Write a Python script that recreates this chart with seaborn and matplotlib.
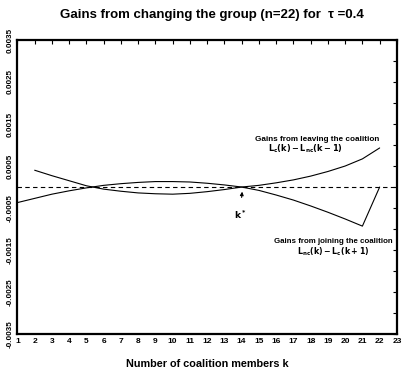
import numpy as np
import pandas as pd
import matplotlib
matplotlib.use("Agg")
import matplotlib.pyplot as plt
import seaborn as sns

# gains from joining the coalition, k = 1..22
k_join = list(range(1, 23))
gain_join = [-0.00037, -0.00027, -0.00017, -0.00009, -0.00002, 0.00004, 0.00008,
             0.00011, 0.00013, 0.00013, 0.00012, 0.00009, 0.00005, 0.0,
             -0.00008, -0.00019, -0.00031, -0.00045, -0.00060, -0.00076, -0.00093, 0.0]

# gains from leaving the coalition, k = 2..22
k_leave = list(range(2, 23))
gain_leave = [0.00040, 0.00027, 0.00015, 0.00003, -0.00005, -0.00010, -0.00014,
              -0.00016, -0.00017, -0.00015, -0.00011, -0.00006, 0.0,
              0.00004, 0.00010, 0.00017, 0.00026, 0.00037, 0.00050, 0.00067, 0.00093]

x_ticks = list(range(1, 24))
y_major = [-0.0035, -0.0025, -0.0015, -0.0005, 0.0005, 0.0015, 0.0025, 0.0035]
y_minor = [-0.003, -0.002, -0.001, 0.0, 0.001, 0.002, 0.003]

df_join = pd.DataFrame({"k": k_join, "gain": gain_join})
df_leave = pd.DataFrame({"k": k_leave, "gain": gain_leave})

sns.set_theme(style="white")
plt.rcParams["font.family"] = ["Liberation Sans", "DejaVu Sans"]
plt.rcParams["font.weight"] = "bold"
plt.rcParams["text.color"] = "black"
plt.rcParams["axes.labelcolor"] = "black"
plt.rcParams["xtick.color"] = "black"
plt.rcParams["ytick.color"] = "black"

fig = plt.figure(figsize=(4.05, 3.7), dpi=100)
ax = fig.add_axes([0.043, 0.097, 0.937, 0.795])

sns.lineplot(data=df_join, x="k", y="gain", color="black", linewidth=0.8, ax=ax)
sns.lineplot(data=df_leave, x="k", y="gain", color="black", linewidth=0.8, ax=ax)
ax.axhline(0, color="black", linewidth=0.8, linestyle=(0, (4, 3)))

ax.set_xlim(1, 23)
ax.set_ylim(-0.0035, 0.0035)
ax.set_xticks(x_ticks)
ax.set_xticklabels([str(t) for t in x_ticks], fontsize=6, fontweight="bold")
ax.set_yticks(y_major)
ax.set_yticklabels([f"{v:.4f}" for v in y_major], rotation=90, va="center",
                   fontsize=5.8, fontweight="bold")
ax.set_yticks(y_minor, minor=True)
ax.tick_params(axis="both", which="both", direction="in", top=True, right=True,
               length=3, width=0.8, pad=3, color="black")
for s in ax.spines.values():
    s.set_linewidth(1.6)
    s.set_color("black")

ax.set_xlabel("Number of coalition members k", fontsize=7.8, fontweight="bold", labelpad=10)
ax.set_ylabel("")
fig.suptitle("Gains from changing the group (n=22) for  \u03c4 =0.4", x=0.523, y=0.975,
             fontsize=9.5, fontweight="bold")

ax.text(18.4, 0.00114, "Gains from leaving the coalition", ha="center", va="center",
        fontsize=5.9, fontweight="bold")
ax.text(17.7, 0.00090, r"$\mathbf{L_c(k)-L_{nc}(k-1)}$", ha="center", va="center", fontsize=5.9)
ax.text(19.3, -0.00129, "Gains from joining the coalition", ha="center", va="center",
        fontsize=5.7, fontweight="bold")
ax.text(19.3, -0.00153, r"$\mathbf{L_{nc}(k)-L_c(k+1)}$", ha="center", va="center", fontsize=5.7)

ax.annotate(r"$\mathbf{k^*}$", xy=(14.03, -0.00011), xytext=(13.9, -0.00067),
            ha="center", va="center", fontsize=6.5,
            arrowprops=dict(arrowstyle="-|>", color="black", lw=0.8, mutation_scale=5,
                            shrinkB=0, shrinkA=6))

fig.savefig("out.png", dpi=100)
